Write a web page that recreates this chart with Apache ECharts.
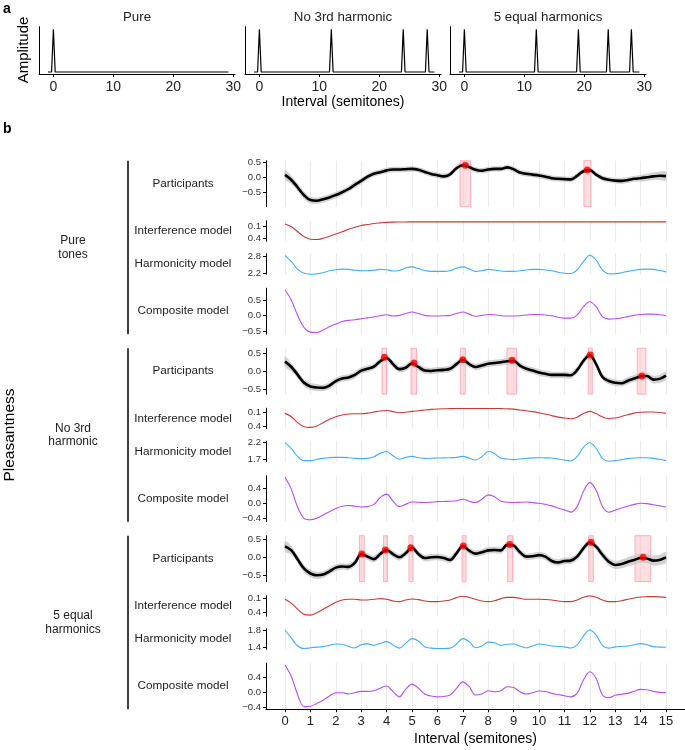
<!DOCTYPE html>
<html><head><meta charset="utf-8">
<script src="https://cdn.jsdelivr.net/npm/echarts@6/dist/echarts.min.js"></script>
<style>html,body{margin:0;padding:0;background:#fff}#c{width:685px;height:750px}</style>
</head><body><div id="c"></div>
<script>
const FONT = '"Liberation Sans", Arial, Helvetica, sans-serif';

// ---------- Panel a data ----------
const spectrumTitles = ['Pure', 'No 3rd harmonic', '5 equal harmonics'];
const spectrumPeaks = [[0], [0, 12, 24, 28], [0, 12, 19.02, 24, 27.86]];
const spectrumTicks = [0, 10, 20, 30];
const spectrumSpan = [-0.9, 29.2];

// ---------- Panel b data ----------
const semitones = [0,0.25,0.5,0.75,1,1.25,1.5,1.75,2,2.25,2.5,2.75,3,3.25,3.5,3.75,4,4.25,4.5,4.75,5,5.25,5.5,5.75,6,6.25,6.5,6.75,7,7.25,7.5,7.75,8,8.25,8.5,8.75,9,9.25,9.5,9.75,10,10.25,10.5,10.75,11,11.25,11.5,11.75,12,12.25,12.5,12.75,13,13.25,13.5,13.75,14,14.25,14.5,14.75,15];
const xTicks = [0,1,2,3,4,5,6,7,8,9,10,11,12,13,14,15];
const groupNames = ['Pure\ntones', 'No 3rd\nharmonic', '5 equal\nharmonics'];
const rowNames = ['Participants', 'Interference model', 'Harmonicity model', 'Composite model'];

// Pure tones
const p1 = [0.08,-0.09,-0.34,-0.6, -0.76,-0.78,-0.73,-0.67, -0.59,-0.5,-0.39,-0.25, -0.12,0.02,0.12,0.17,
  0.23,0.26,0.26,0.27, 0.28,0.25,0.18,0.11, 0.07,0.03,0.1,0.3, 0.4,0.34,0.25,0.22, 0.26,0.28,0.28,0.33,
  0.27,0.16,0.12,0.09, 0.06,0.02,-0.03,-0.05, -0.06,-0.07,0.05,0.2, 0.24,0.09,-0.03,-0.08,
  -0.11,-0.12,-0.09,-0.05, -0.03,0.0,0.03,0.05, 0.04];
const ci1 = [0.16,0.14,0.13,0.12, 0.11,0.11,0.11,0.11, 0.11,0.1,0.1,0.1, 0.1,0.09,0.09,0.09,
  0.09,0.09,0.09,0.09, 0.09,0.09,0.09,0.09, 0.09,0.09,0.09,0.09, 0.09,0.09,0.09,0.09, 0.09,0.09,0.09,0.09,
  0.09,0.09,0.09,0.09, 0.09,0.09,0.09,0.09, 0.09,0.09,0.09,0.09, 0.09,0.09,0.09,0.09,
  0.09,0.1,0.1,0.1, 0.11,0.12,0.13,0.14, 0.15];
const i1 = [0.05,0.12,0.24,0.36, 0.425,0.43,0.4,0.35, 0.295,0.24,0.18,0.13, 0.09,0.065,0.04,0.025,
  0.012,0.006,0.003,0.001, 0,0,0,0, 0,0,0,0, 0,0,0,0, 0,0,0,0, 0,0,0,0, 0,0,0,0, 0,0,0,0, 0,0,0,0, 0,0,0,0, 0,0,0,0, 0];
const h1 = [2.85,2.62,2.34,2.2, 2.16,2.18,2.22,2.29, 2.33,2.35,2.34,2.31, 2.29,2.29,2.31,2.34,
  2.33,2.28,2.3,2.39, 2.43,2.37,2.3,2.27, 2.27,2.27,2.29,2.38, 2.43,2.36,2.27,2.29, 2.34,2.32,2.28,2.27,
  2.27,2.29,2.32,2.34, 2.34,2.32,2.29,2.24, 2.2,2.19,2.32,2.62, 2.85,2.68,2.32,2.18,
  2.18,2.22,2.27,2.31, 2.34,2.35,2.34,2.3, 2.25];
const c1 = [0.83,0.5,0.0,-0.38, -0.53,-0.54,-0.46,-0.36, -0.27,-0.19,-0.15,-0.13, -0.1,-0.07,-0.04,0.0,
  0.03,-0.01,0.01,0.07, 0.12,0.07,0.01,-0.01, -0.01,0.0,0.01,0.07, 0.12,0.05,-0.02,0.01, 0.04,0.03,0.0,-0.01,
  -0.01,0.0,0.02,0.04, 0.04,0.02,0.0,-0.05, -0.08,-0.08,0.02,0.29, 0.45,0.29,-0.03,-0.11,
  -0.1,-0.07,-0.03,0.01, 0.04,0.05,0.05,0.03, 0.0];
const bands1 = [[6.89, 7.31], [11.77, 12.05]];
const dots1 = [[7.1, 0.4], [11.9, 0.24]];

// No 3rd harmonic
const p2 = [0.27,0.12,-0.1,-0.32, -0.42,-0.45,-0.46,-0.4, -0.27,-0.2,-0.17,-0.1, 0.02,0.07,0.13,0.28,
  0.37,0.2,0.06,0.1, 0.22,0.12,0.02,0.01, 0.03,0.04,0.07,0.2, 0.32,0.2,0.12,0.16, 0.21,0.23,0.25,0.28,
  0.29,0.16,0.07,0.02, -0.03,-0.07,-0.1,-0.1, -0.1,-0.11,0.03,0.29, 0.45,0.2,-0.16,-0.27,
  -0.32,-0.33,-0.26,-0.2, -0.14,-0.13,-0.23,-0.21, -0.12];
const ci2 = [0.14,0.12,0.1,0.1, 0.1,0.1,0.09,0.09, 0.09,0.09,0.09,0.09, 0.09,0.09,0.09,0.09,
  0.09,0.09,0.09,0.09, 0.09,0.09,0.09,0.09, 0.09,0.09,0.09,0.09, 0.09,0.09,0.09,0.09, 0.09,0.09,0.09,0.09,
  0.09,0.09,0.09,0.09, 0.09,0.09,0.09,0.09, 0.09,0.09,0.09,0.09, 0.09,0.09,0.09,0.09,
  0.09,0.09,0.1,0.1, 0.1,0.1,0.11,0.11, 0.12];
const i2 = [0.115,0.19,0.325,0.415, 0.43,0.4,0.325,0.25, 0.19,0.15,0.13,0.125, 0.125,0.11,0.085,0.06,
  0.05,0.075,0.1,0.09, 0.07,0.055,0.04,0.025, 0.015,0.01,0.008,0.005, 0.003,0.002,0.002,0.002, 0.003,0.005,0.008,0.012,
  0.018,0.04,0.055,0.075, 0.1,0.13,0.165,0.2, 0.22,0.235,0.2,0.12, 0.07,0.12,0.195,0.23,
  0.22,0.185,0.145,0.11, 0.09,0.085,0.085,0.095, 0.115];
const h2 = [2.2,2.02,1.77,1.65, 1.65,1.69,1.72,1.74, 1.75,1.75,1.74,1.72, 1.71,1.72,1.77,1.88,
  1.93,1.8,1.69,1.75, 1.78,1.74,1.72,1.725, 1.73,1.735,1.74,1.75, 1.78,1.73,1.67,1.77, 1.93,1.87,1.72,1.7,
  1.68,1.7,1.72,1.735, 1.74,1.735,1.73,1.7, 1.67,1.64,1.77,2.06, 2.2,2.03,1.72,1.63,
  1.65,1.68,1.71,1.73, 1.74,1.74,1.72,1.69, 1.65];
const c2 = [0.71,0.38,-0.12,-0.41, -0.45,-0.41,-0.32,-0.23, -0.14,-0.08,-0.06,-0.08, -0.1,-0.09,-0.03,0.16,
  0.25,0.06,-0.09,-0.03, 0.035,0.03,0.02,0.03, 0.045,0.05,0.055,0.07, 0.11,0.055,0.02,0.11, 0.23,0.18,0.055,0.03,
  0.02,0.03,0.035,0.02, 0.0,-0.03,-0.07,-0.13, -0.18,-0.24,-0.09,0.32, 0.565,0.36,-0.09,-0.245,
  -0.19,-0.13,-0.08,-0.03, 0.0,-0.01,-0.04,-0.07, -0.1];
const bands2 = [[3.82, 4.0], [4.96, 5.18], [6.9, 7.1], [8.74, 9.12], [11.94, 12.1], [13.87, 14.21]];
const dots2 = [[3.91, 0.39], [5.08, 0.23], [7.0, 0.32], [8.94, 0.31], [12.02, 0.45], [14.05, -0.13]];

// 5 equal harmonics
const p3 = [0.3,0.19,-0.06,-0.31, -0.44,-0.49,-0.47,-0.38, -0.28,-0.25,-0.26,-0.15, 0.09,0.02,-0.05,0.09,
  0.2,0.09,0.0,0.11, 0.26,0.09,-0.02,0.0, 0.01,-0.02,-0.07,0.11, 0.31,0.18,0.1,0.14, 0.19,0.2,0.19,0.34,
  0.32,0.14,0.02,0.03, 0.06,0.02,-0.1,-0.14, -0.1,-0.09,0.02,0.245, 0.4,0.29,0.07,-0.12,
  -0.21,-0.18,-0.12,-0.07, -0.02,-0.03,-0.09,-0.07, 0.0];
const ci3 = [0.14,0.12,0.1,0.1, 0.1,0.1,0.09,0.09, 0.09,0.09,0.09,0.09, 0.09,0.09,0.09,0.09,
  0.09,0.09,0.09,0.09, 0.09,0.09,0.09,0.09, 0.09,0.09,0.09,0.09, 0.09,0.09,0.09,0.09, 0.09,0.09,0.09,0.09,
  0.09,0.09,0.09,0.09, 0.09,0.09,0.09,0.09, 0.09,0.09,0.09,0.09, 0.09,0.09,0.1,0.11,
  0.11,0.12,0.12,0.13, 0.13,0.13,0.14,0.14, 0.15];
const i3 = [0.12,0.205,0.33,0.435, 0.45,0.4,0.33,0.255, 0.18,0.135,0.12,0.12, 0.135,0.135,0.12,0.107,
  0.12,0.155,0.17,0.135, 0.114,0.128,0.155,0.17, 0.17,0.155,0.135,0.086, 0.058,0.08,0.12,0.155, 0.17,0.15,0.107,0.08,
  0.08,0.1,0.12,0.12, 0.12,0.125,0.135,0.155, 0.17,0.17,0.135,0.08, 0.05,0.08,0.135,0.17,
  0.17,0.15,0.12,0.093, 0.072,0.066,0.065,0.07, 0.08];
const h3 = [1.8,1.61,1.43,1.37, 1.39,1.405,1.415,1.445, 1.475,1.47,1.42,1.385, 1.46,1.48,1.445,1.49,
  1.53,1.455,1.38,1.49, 1.6,1.545,1.415,1.38, 1.37,1.37,1.38,1.475, 1.6,1.53,1.39,1.43, 1.52,1.505,1.445,1.47,
  1.475,1.43,1.385,1.43, 1.475,1.46,1.43,1.42, 1.41,1.385,1.455,1.66, 1.8,1.685,1.445,1.38,
  1.41,1.42,1.43,1.46, 1.485,1.46,1.415,1.405, 1.4];
const c3 = [0.74,0.43,-0.06,-0.37, -0.36,-0.285,-0.2,-0.09, 0.0,0.0,-0.036,0.0, 0.036,0.036,0.05,0.12,
  0.18,0.027,-0.11,0.09, 0.23,0.12,-0.036,-0.09, -0.11,-0.1,-0.06,0.115, 0.29,0.16,-0.06,-0.036, 0.053,0.027,0.053,0.16,
  0.14,0.027,-0.036,0.0, 0.044,0.03,-0.018,-0.05, -0.08,-0.11,-0.018,0.34, 0.56,0.38,-0.06,-0.13,
  -0.07,-0.04,-0.018,0.04, 0.09,0.08,0.036,0.01, 0.0];
const bands3 = [[2.93, 3.12], [3.88, 4.03], [4.88, 5.04], [6.97, 7.13], [8.77, 8.96], [11.96, 12.14], [13.78, 14.4]];
const dots3 = [[3.02, 0.09], [3.95, 0.2], [4.95, 0.26], [7.02, 0.31], [8.85, 0.35], [12.05, 0.41], [14.1, 0.0]];

// tick label values
const tickP = [-0.5, 0, 0.5];
const tickI = [0.1, 0.4];
const tickH = [[2.2, 2.8], [1.7, 2.2], [1.4, 1.8]];
const tickC = [[-0.5, 0, 0.5], [-0.4, 0, 0.4], [-0.4, 0, 0.4]];

const groups = [
  {p: p1, ci: ci1, i: i1, h: h1, c: c1, bands: bands1, dots: dots1},
  {p: p2, ci: ci2, i: i2, h: h2, c: c2, bands: bands2, dots: dots2},
  {p: p3, ci: ci3, i: i3, h: h3, c: c3, bands: bands3, dots: dots3}
];

// ---------- layout ----------
const gTop = [160.7, 348.2, 535.7];
const rowOff = [0, 60, 93, 127.5];
const rowH = [46, 20.5, 20.5, 46];
const yRange = [
  [[-0.98, 0.553], [-0.029, 0.471], [2.167, 2.908], [-0.597, 0.887]],
  [[-0.636, 0.642], [-0.002, 0.461], [1.617, 2.246], [-0.503, 0.754]],
  [[-0.664, 0.589], [0.046, 0.473], [1.356, 1.83], [-0.44, 0.787]]
];
const COL_I = '#c83a3a', COL_H = '#40aefc', COL_C = '#b550f5';

const fmt = v => (v < 0 ? '\u2212' : '') + Math.abs(v).toFixed(1);

function ribbonItem(xs, ys, ci) {
  return function (params, api) {
    const up = xs.map((x, k) => api.coord([x, ys[k] + ci[k]]));
    const lo = xs.map((x, k) => api.coord([x, ys[k] - ci[k]])).reverse();
    return {
      type: 'polygon',
      shape: {points: up.concat(lo), smooth: 0.3},
      style: {fill: '#c8c8c8', opacity: 0.8}
    };
  };
}

const grid = [], xAxis = [], yAxis = [], series = [], graphic = [];

// Panel a
const aLeft = [39, 245, 450];
aLeft.forEach((left, k) => {
  grid.push({left: left, width: 196, top: 26.7, height: 47.3});
  xAxis.push({
    type: 'value', gridIndex: grid.length - 1, min: -2.4, max: 30.3,
    axisLine: {show: true, onZero: false, lineStyle: {color: '#000', width: 1}},
    axisTick: {show: true, length: 3, customValues: spectrumTicks, lineStyle: {color: '#000'}},
    axisLabel: {customValues: spectrumTicks, fontSize: 14, color: '#222', fontFamily: FONT, margin: 6},
    splitLine: {show: false},
    name: k === 1 ? 'Interval (semitones)' : '', nameLocation: 'middle', nameGap: 20,
    nameTextStyle: {fontSize: 14, color: '#000', fontFamily: FONT}
  });
  yAxis.push({
    type: 'value', gridIndex: grid.length - 1, min: -0.047, max: 1.06,
    axisLine: {show: true, onZero: false, lineStyle: {color: '#000', width: 1}},
    axisTick: {show: false}, axisLabel: {show: false}, splitLine: {show: false}
  });
  const pts = [[spectrumSpan[0], 0]];
  spectrumPeaks[k].forEach(pk => { pts.push([pk - 0.3, 0], [pk, 1], [pk + 0.3, 0]); });
  pts.push([spectrumSpan[1], 0]);
  series.push({
    type: 'line', xAxisIndex: xAxis.length - 1, yAxisIndex: yAxis.length - 1,
    data: pts, symbol: 'none', lineStyle: {color: '#000', width: 1.2}, silent: true
  });
  graphic.push({type: 'text', x: left + 98, y: 17, style: {text: spectrumTitles[k], fontSize: 13.3, fontFamily: FONT, fill: '#222', align: 'center', verticalAlign: 'middle'}});
});

// Panel b
groups.forEach((g, gi) => {
  const rows = [g.p, g.i, g.h, g.c];
  rows.forEach((vals, ri) => {
    const top = gTop[gi] + rowOff[ri];
    grid.push({left: 266, right: 0, top: top, height: rowH[ri]});
    const gIdx = grid.length - 1;
    const isBottom = gi === 2 && ri === 3;
    xAxis.push({
      type: 'value', gridIndex: gIdx, min: -0.75, max: 15.75,
      axisLine: {show: isBottom, onZero: false, lineStyle: {color: '#000', width: 1}},
      axisTick: {show: isBottom, length: 3, customValues: xTicks, lineStyle: {color: '#000'}},
      axisLabel: {show: isBottom, customValues: xTicks, fontSize: 13, color: '#222', fontFamily: FONT, margin: 6},
      splitLine: {show: true, lineStyle: {color: '#ebebeb', width: 1.2}},
      name: isBottom ? 'Interval (semitones)' : '', nameLocation: 'middle', nameGap: 23,
      nameTextStyle: {fontSize: 14, color: '#000', fontFamily: FONT}
    });
    const ticks = ri === 0 ? tickP : ri === 1 ? tickI : ri === 2 ? tickH[gi] : tickC[gi];
    yAxis.push({
      type: 'value', gridIndex: gIdx, min: yRange[gi][ri][0], max: yRange[gi][ri][1], inverse: ri === 1,
      axisLine: {show: true, onZero: false, lineStyle: {color: '#000', width: 1}},
      axisTick: {show: true, length: 3, customValues: ticks, lineStyle: {color: '#000'}},
      axisLabel: {customValues: ticks, formatter: fmt, fontSize: 9.5, color: '#333', fontFamily: FONT, margin: 5},
      splitLine: {show: false}
    });
    const ax = {xAxisIndex: xAxis.length - 1, yAxisIndex: yAxis.length - 1};
    const sm = 0.35;
    if (ri === 0) {
      series.push(Object.assign({
        type: 'line', symbol: 'none', silent: true, z: 1,
        data: semitones.map((x, k) => [x, vals[k]]),
        lineStyle: {opacity: 0},
        markArea: {
          silent: true,
          itemStyle: {color: 'rgba(255,190,198,0.5)', borderColor: 'rgba(255,150,165,0.7)', borderWidth: 1},
          data: g.bands.map(b => [{xAxis: b[0]}, {xAxis: b[1]}])
        }
      }, ax));
      series.push(Object.assign({
        type: 'custom', silent: true, z: 3, clip: true,
        renderItem: ribbonItem(semitones, vals, g.ci),
        data: [[0, 0]]
      }, ax));
      series.push(Object.assign({
        type: 'line', symbol: 'none', smooth: sm, silent: true, z: 4,
        data: semitones.map((x, k) => [x, vals[k]]),
        lineStyle: {color: '#000', width: 2.6}
      }, ax));
      series.push(Object.assign({
        type: 'scatter', silent: true, z: 5, symbolSize: 7,
        data: g.dots, itemStyle: {color: '#ff0000'}
      }, ax));
    } else {
      const col = ri === 1 ? COL_I : ri === 2 ? COL_H : COL_C;
      series.push(Object.assign({
        type: 'line', symbol: 'none', smooth: sm, silent: true,
        data: semitones.map((x, k) => [x, vals[k]]),
        lineStyle: {color: col, width: 1.1}
      }, ax));
    }
    graphic.push({type: 'text', x: 183, y: top + rowH[ri] / 2, style: {text: rowNames[ri], fontSize: 11.7, fontFamily: FONT, fill: '#222', align: 'center', verticalAlign: 'middle'}});
  });
  const gBottom = gTop[gi] + rowOff[3] + rowH[3];
  graphic.push({type: 'line', shape: {x1: 128, y1: gTop[gi], x2: 128, y2: gBottom}, style: {stroke: '#000', lineWidth: 1.5}});
  graphic.push({type: 'text', x: 73, y: (gTop[gi] + gBottom) / 2, style: {text: groupNames[gi], fontSize: 12, lineHeight: 13.5, fontFamily: FONT, fill: '#222', align: 'center', verticalAlign: 'middle'}});
});

graphic.push({type: 'text', x: 3, y: 9, style: {text: 'a', fontSize: 14, fontWeight: 'bold', fontFamily: FONT, fill: '#000', align: 'left', verticalAlign: 'middle'}});
graphic.push({type: 'text', x: 3, y: 129, style: {text: 'b', fontSize: 14, fontWeight: 'bold', fontFamily: FONT, fill: '#000', align: 'left', verticalAlign: 'middle'}});
graphic.push({type: 'text', x: 24, y: 50, rotation: Math.PI / 2, style: {text: 'Amplitude', fontSize: 15, fontFamily: FONT, fill: '#000', align: 'center', verticalAlign: 'middle'}});
graphic.push({type: 'text', x: 10, y: 435, rotation: Math.PI / 2, style: {text: 'Pleasantness', fontSize: 15.5, fontFamily: FONT, fill: '#000', align: 'center', verticalAlign: 'middle'}});

const chart = echarts.init(document.getElementById('c'), null, {renderer: 'canvas'});
chart.setOption({
  animation: false,
  backgroundColor: '#fff',
  textStyle: {fontFamily: FONT},
  grid: grid, xAxis: xAxis, yAxis: yAxis, series: series, graphic: graphic
});
</script>
</body></html>
